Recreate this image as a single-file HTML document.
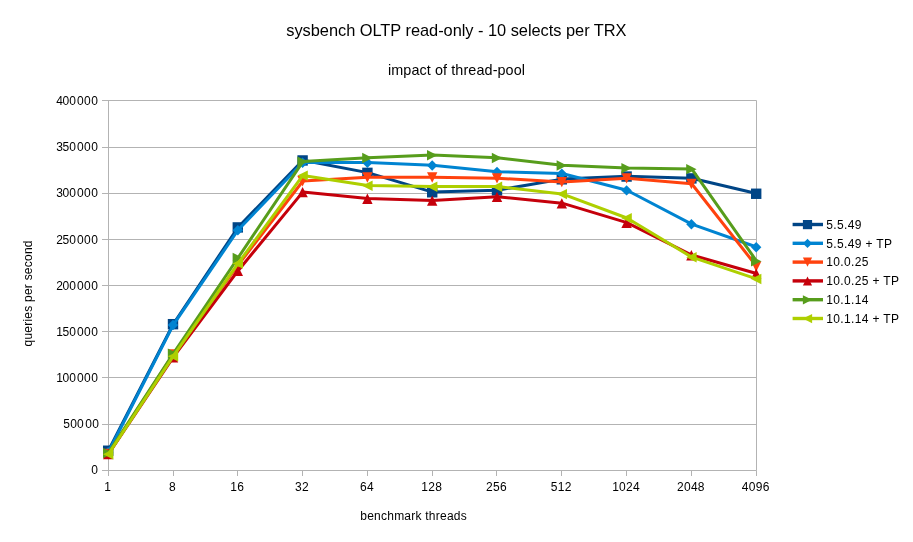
<!DOCTYPE html><html><head><meta charset="utf-8"><style>html,body{margin:0;padding:0;background:#fff}svg{display:block;will-change:transform}text{font-family:"Liberation Sans",sans-serif;fill:#000}</style></head><body>
<svg width="913" height="542" viewBox="0 0 913 542">
<rect width="913" height="542" fill="#fff"/>
<line x1="102.0" y1="100.50" x2="756.5" y2="100.50" stroke="#b3b3b3" stroke-width="1"/>
<line x1="102.0" y1="147.50" x2="756.5" y2="147.50" stroke="#b3b3b3" stroke-width="1"/>
<line x1="102.0" y1="193.50" x2="756.5" y2="193.50" stroke="#b3b3b3" stroke-width="1"/>
<line x1="102.0" y1="239.50" x2="756.5" y2="239.50" stroke="#b3b3b3" stroke-width="1"/>
<line x1="102.0" y1="285.50" x2="756.5" y2="285.50" stroke="#b3b3b3" stroke-width="1"/>
<line x1="102.0" y1="331.50" x2="756.5" y2="331.50" stroke="#b3b3b3" stroke-width="1"/>
<line x1="102.0" y1="377.50" x2="756.5" y2="377.50" stroke="#b3b3b3" stroke-width="1"/>
<line x1="102.0" y1="424.50" x2="756.5" y2="424.50" stroke="#b3b3b3" stroke-width="1"/>
<line x1="102.0" y1="470.50" x2="756.5" y2="470.50" stroke="#b3b3b3" stroke-width="1"/>
<line x1="108.5" y1="100.5" x2="108.5" y2="470.5" stroke="#b3b3b3"/>
<line x1="756.5" y1="100.5" x2="756.5" y2="470.5" stroke="#b3b3b3"/>
<line x1="108.50" y1="470.5" x2="108.50" y2="476.0" stroke="#b3b3b3"/>
<line x1="173.50" y1="470.5" x2="173.50" y2="476.0" stroke="#b3b3b3"/>
<line x1="237.50" y1="470.5" x2="237.50" y2="476.0" stroke="#b3b3b3"/>
<line x1="302.50" y1="470.5" x2="302.50" y2="476.0" stroke="#b3b3b3"/>
<line x1="367.50" y1="470.5" x2="367.50" y2="476.0" stroke="#b3b3b3"/>
<line x1="432.50" y1="470.5" x2="432.50" y2="476.0" stroke="#b3b3b3"/>
<line x1="496.50" y1="470.5" x2="496.50" y2="476.0" stroke="#b3b3b3"/>
<line x1="561.50" y1="470.5" x2="561.50" y2="476.0" stroke="#b3b3b3"/>
<line x1="626.50" y1="470.5" x2="626.50" y2="476.0" stroke="#b3b3b3"/>
<line x1="691.50" y1="470.5" x2="691.50" y2="476.0" stroke="#b3b3b3"/>
<line x1="756.50" y1="470.5" x2="756.50" y2="476.0" stroke="#b3b3b3"/>
<text x="56.2 62.5 69.3 77.0 84.1 91.2" y="105" font-size="12">400000</text>
<text x="56.2 62.5 69.3 77.0 84.1 91.2" y="151" font-size="12">350000</text>
<text x="56.2 62.5 69.3 77.0 84.1 91.2" y="197" font-size="12">300000</text>
<text x="56.2 62.5 69.3 77.0 84.1 91.2" y="244" font-size="12">250000</text>
<text x="56.2 62.5 69.3 77.0 84.1 91.2" y="290" font-size="12">200000</text>
<text x="56.2 62.5 69.3 77.0 84.1 91.2" y="336" font-size="12">150000</text>
<text x="56.2 62.5 69.3 77.0 84.1 91.2" y="382" font-size="12">100000</text>
<text x="63.2 70.3 76.9 85.3 92.2" y="428" font-size="12">50000</text>
<text x="91.2" y="474" font-size="12">0</text>
<text x="107.7" y="491" font-size="12" text-anchor="middle" letter-spacing="0.3">1</text>
<text x="172.5" y="491" font-size="12" text-anchor="middle" letter-spacing="0.3">8</text>
<text x="237.3" y="491" font-size="12" text-anchor="middle" letter-spacing="0.3">16</text>
<text x="302.1" y="491" font-size="12" text-anchor="middle" letter-spacing="0.3">32</text>
<text x="366.9" y="491" font-size="12" text-anchor="middle" letter-spacing="0.3">64</text>
<text x="431.7" y="491" font-size="12" text-anchor="middle" letter-spacing="0.3">128</text>
<text x="496.5" y="491" font-size="12" text-anchor="middle" letter-spacing="0.3">256</text>
<text x="561.3" y="491" font-size="12" text-anchor="middle" letter-spacing="0.3">512</text>
<text x="626.1" y="491" font-size="12" text-anchor="middle" letter-spacing="0.3">1024</text>
<text x="690.9" y="491" font-size="12" text-anchor="middle" letter-spacing="0.3">2048</text>
<text x="755.7" y="491" font-size="12" text-anchor="middle" letter-spacing="0.3">4096</text>
<text x="286.3" y="36" font-size="16.4" text-anchor="start" textLength="340.2" lengthAdjust="spacing">sysbench OLTP read-only - 10 selects per TRX</text>
<text x="388" y="75" font-size="14.4" text-anchor="start" textLength="137" lengthAdjust="spacing">impact of thread-pool</text>
<text x="360.3" y="520" font-size="12" text-anchor="start" textLength="106.4" lengthAdjust="spacing">benchmark threads</text>
<text transform="translate(31.5,346.5) rotate(-90)" font-size="12" textLength="106" lengthAdjust="spacing">queries per second</text>
<polyline points="108.50,450.52 173.30,323.98 238.10,227.22 302.90,160.25 367.70,172.65 432.50,192.07 497.30,190.23 562.10,179.12 626.90,176.35 691.70,178.20 756.50,193.56" fill="none" stroke="#004586" stroke-width="3.0" stroke-linejoin="round"/>
<rect x="103.00" y="445.52" width="10.40" height="10.40" fill="#004586"/>
<rect x="167.80" y="318.98" width="10.40" height="10.40" fill="#004586"/>
<rect x="232.60" y="222.22" width="10.40" height="10.40" fill="#004586"/>
<rect x="297.40" y="155.25" width="10.40" height="10.40" fill="#004586"/>
<rect x="362.20" y="167.65" width="10.40" height="10.40" fill="#004586"/>
<rect x="427.00" y="187.07" width="10.40" height="10.40" fill="#004586"/>
<rect x="491.80" y="185.23" width="10.40" height="10.40" fill="#004586"/>
<rect x="556.60" y="174.12" width="10.40" height="10.40" fill="#004586"/>
<rect x="621.40" y="171.35" width="10.40" height="10.40" fill="#004586"/>
<rect x="686.20" y="173.20" width="10.40" height="10.40" fill="#004586"/>
<rect x="751.00" y="188.56" width="10.40" height="10.40" fill="#004586"/>
<polyline points="108.50,452.00 173.30,324.81 238.10,230.00 302.90,162.48 367.70,162.48 432.50,165.25 497.30,171.73 562.10,173.57 626.90,190.23 691.70,224.08 756.50,247.02" fill="none" stroke="#0084d1" stroke-width="3.0" stroke-linejoin="round"/>
<polygon points="108.20,447.00 113.40,452.20 108.20,457.40 103.00,452.20" fill="#0084d1"/>
<polygon points="173.00,319.81 178.20,325.01 173.00,330.21 167.80,325.01" fill="#0084d1"/>
<polygon points="237.80,225.00 243.00,230.20 237.80,235.40 232.60,230.20" fill="#0084d1"/>
<polygon points="302.60,157.48 307.80,162.68 302.60,167.88 297.40,162.68" fill="#0084d1"/>
<polygon points="367.40,157.48 372.60,162.68 367.40,167.88 362.20,162.68" fill="#0084d1"/>
<polygon points="432.20,160.25 437.40,165.45 432.20,170.65 427.00,165.45" fill="#0084d1"/>
<polygon points="497.00,166.73 502.20,171.93 497.00,177.12 491.80,171.93" fill="#0084d1"/>
<polygon points="561.80,168.57 567.00,173.77 561.80,178.97 556.60,173.77" fill="#0084d1"/>
<polygon points="626.60,185.23 631.80,190.43 626.60,195.62 621.40,190.43" fill="#0084d1"/>
<polygon points="691.40,219.08 696.60,224.28 691.40,229.48 686.20,224.28" fill="#0084d1"/>
<polygon points="756.20,242.02 761.40,247.22 756.20,252.42 751.00,247.22" fill="#0084d1"/>
<polyline points="108.50,453.85 173.30,354.13 238.10,265.15 302.90,180.98 367.70,177.27 432.50,177.27 497.30,178.20 562.10,181.90 626.90,178.20 691.70,183.75 756.50,266.26" fill="none" stroke="#ff420e" stroke-width="3.0" stroke-linejoin="round"/>
<polygon points="103.00,448.85 113.40,448.85 108.20,459.25" fill="#ff420e"/>
<polygon points="167.80,349.13 178.20,349.13 173.00,359.53" fill="#ff420e"/>
<polygon points="232.60,260.15 243.00,260.15 237.80,270.55" fill="#ff420e"/>
<polygon points="297.40,175.98 307.80,175.98 302.60,186.38" fill="#ff420e"/>
<polygon points="362.20,172.27 372.60,172.27 367.40,182.67" fill="#ff420e"/>
<polygon points="427.00,172.27 437.40,172.27 432.20,182.67" fill="#ff420e"/>
<polygon points="491.80,173.20 502.20,173.20 497.00,183.60" fill="#ff420e"/>
<polygon points="556.60,176.90 567.00,176.90 561.80,187.30" fill="#ff420e"/>
<polygon points="621.40,173.20 631.80,173.20 626.60,183.60" fill="#ff420e"/>
<polygon points="686.20,178.75 696.60,178.75 691.40,189.15" fill="#ff420e"/>
<polygon points="751.00,261.26 761.40,261.26 756.20,271.66" fill="#ff420e"/>
<polyline points="108.50,453.85 173.30,357.19 238.10,270.70 302.90,191.89 367.70,198.55 432.50,200.40 497.30,196.70 562.10,203.18 626.90,222.60 691.70,254.97 756.50,273.48" fill="none" stroke="#c5000b" stroke-width="3.0" stroke-linejoin="round"/>
<polygon points="103.00,459.25 113.40,459.25 108.20,448.85" fill="#c5000b"/>
<polygon points="167.80,362.59 178.20,362.59 173.00,352.19" fill="#c5000b"/>
<polygon points="232.60,276.10 243.00,276.10 237.80,265.70" fill="#c5000b"/>
<polygon points="297.40,197.29 307.80,197.29 302.60,186.89" fill="#c5000b"/>
<polygon points="362.20,203.95 372.60,203.95 367.40,193.55" fill="#c5000b"/>
<polygon points="427.00,205.80 437.40,205.80 432.20,195.40" fill="#c5000b"/>
<polygon points="491.80,202.10 502.20,202.10 497.00,191.70" fill="#c5000b"/>
<polygon points="556.60,208.57 567.00,208.57 561.80,198.18" fill="#c5000b"/>
<polygon points="621.40,228.00 631.80,228.00 626.60,217.60" fill="#c5000b"/>
<polygon points="686.20,260.38 696.60,260.38 691.40,249.97" fill="#c5000b"/>
<polygon points="751.00,278.88 761.40,278.88 756.20,268.48" fill="#c5000b"/>
<polyline points="108.50,452.93 173.30,353.58 238.10,257.75 302.90,161.55 367.70,157.85 432.50,155.07 497.30,157.85 562.10,165.25 626.90,168.02 691.70,168.95 756.50,260.99" fill="none" stroke="#579d1c" stroke-width="3.0" stroke-linejoin="round"/>
<polygon points="103.00,447.93 113.40,453.12 103.00,458.32" fill="#579d1c"/>
<polygon points="167.80,348.58 178.20,353.78 167.80,358.98" fill="#579d1c"/>
<polygon points="232.60,252.75 243.00,257.95 232.60,263.15" fill="#579d1c"/>
<polygon points="297.40,156.55 307.80,161.75 297.40,166.95" fill="#579d1c"/>
<polygon points="362.20,152.85 372.60,158.05 362.20,163.25" fill="#579d1c"/>
<polygon points="427.00,150.07 437.40,155.27 427.00,160.47" fill="#579d1c"/>
<polygon points="491.80,152.85 502.20,158.05 491.80,163.25" fill="#579d1c"/>
<polygon points="556.60,160.25 567.00,165.45 556.60,170.65" fill="#579d1c"/>
<polygon points="621.40,163.02 631.80,168.22 621.40,173.42" fill="#579d1c"/>
<polygon points="686.20,163.95 696.60,169.15 686.20,174.35" fill="#579d1c"/>
<polygon points="751.00,255.99 761.40,261.19 751.00,266.39" fill="#579d1c"/>
<polyline points="108.50,454.04 173.30,356.17 238.10,263.30 302.90,175.43 367.70,185.60 432.50,186.52 497.30,186.52 562.10,193.93 626.90,217.97 691.70,257.10 756.50,278.84" fill="none" stroke="#aecf00" stroke-width="3.0" stroke-linejoin="round"/>
<polygon points="113.40,449.04 103.00,454.24 113.40,459.44" fill="#aecf00"/>
<polygon points="178.20,351.17 167.80,356.37 178.20,361.57" fill="#aecf00"/>
<polygon points="243.00,258.30 232.60,263.50 243.00,268.70" fill="#aecf00"/>
<polygon points="307.80,170.43 297.40,175.62 307.80,180.82" fill="#aecf00"/>
<polygon points="372.60,180.60 362.20,185.80 372.60,191.00" fill="#aecf00"/>
<polygon points="437.40,181.52 427.00,186.72 437.40,191.92" fill="#aecf00"/>
<polygon points="502.20,181.52 491.80,186.72 502.20,191.92" fill="#aecf00"/>
<polygon points="567.00,188.93 556.60,194.12 567.00,199.32" fill="#aecf00"/>
<polygon points="631.80,212.97 621.40,218.17 631.80,223.37" fill="#aecf00"/>
<polygon points="696.60,252.10 686.20,257.30 696.60,262.50" fill="#aecf00"/>
<polygon points="761.40,273.84 751.00,279.04 761.40,284.24" fill="#aecf00"/>
<line x1="792.6" y1="224.5" x2="823" y2="224.5" stroke="#004586" stroke-width="3.4"/>
<rect x="802.90" y="220.00" width="9.20" height="9.20" fill="#004586"/>
<text x="826.3" y="228.7" font-size="12" text-anchor="start" letter-spacing="0.35">5.5.49</text>
<line x1="792.6" y1="243.3" x2="823" y2="243.3" stroke="#0084d1" stroke-width="3.4"/>
<polygon points="807.50,238.80 812.10,243.40 807.50,248.00 802.90,243.40" fill="#0084d1"/>
<text x="826.3" y="247.5" font-size="12" text-anchor="start" letter-spacing="0.35">5.5.49 + TP</text>
<line x1="792.6" y1="262.1" x2="823" y2="262.1" stroke="#ff420e" stroke-width="3.4"/>
<polygon points="802.90,257.60 812.10,257.60 807.50,266.80" fill="#ff420e"/>
<text x="826.3" y="266.3" font-size="12" text-anchor="start" letter-spacing="0.35">10.0.25</text>
<line x1="792.6" y1="280.9" x2="823" y2="280.9" stroke="#c5000b" stroke-width="3.4"/>
<polygon points="802.90,285.60 812.10,285.60 807.50,276.40" fill="#c5000b"/>
<text x="826.3" y="285.1" font-size="12" text-anchor="start" letter-spacing="0.35">10.0.25 + TP</text>
<line x1="792.6" y1="299.7" x2="823" y2="299.7" stroke="#579d1c" stroke-width="3.4"/>
<polygon points="802.90,295.20 812.10,299.80 802.90,304.40" fill="#579d1c"/>
<text x="826.3" y="303.9" font-size="12" text-anchor="start" letter-spacing="0.35">10.1.14</text>
<line x1="792.6" y1="318.5" x2="823" y2="318.5" stroke="#aecf00" stroke-width="3.4"/>
<polygon points="812.10,314.00 802.90,318.60 812.10,323.20" fill="#aecf00"/>
<text x="826.3" y="322.7" font-size="12" text-anchor="start" letter-spacing="0.35">10.1.14 + TP</text>
</svg></body></html>
